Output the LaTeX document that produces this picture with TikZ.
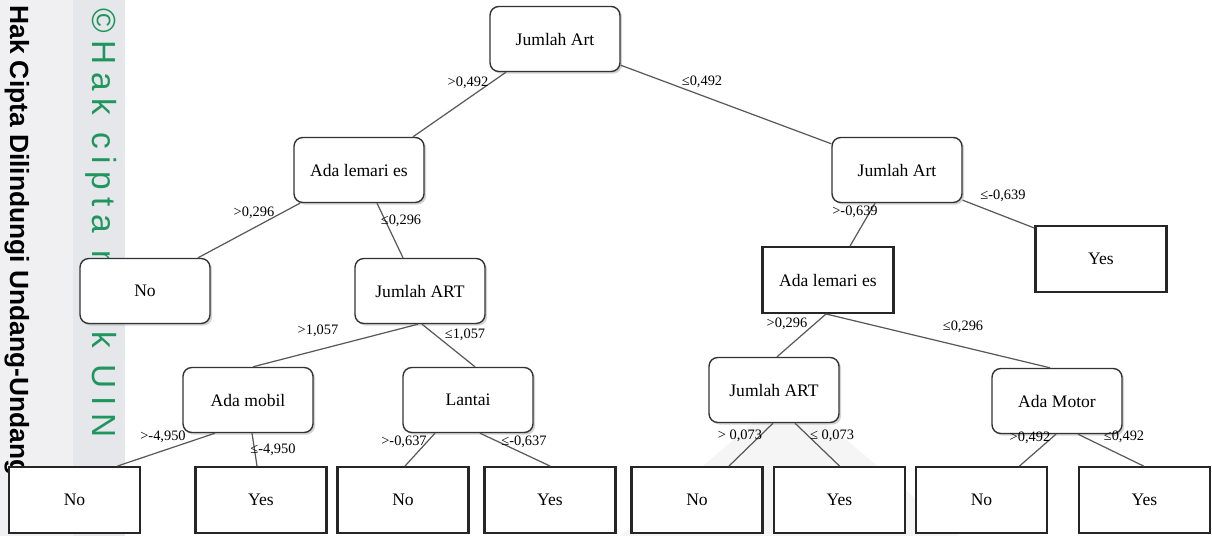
\documentclass[tikz,border=0pt]{standalone}
\usepackage{fontspec}
\setmainfont{Liberation Serif}
\newfontfamily\treefont{Liberation Serif}
\newfontfamily\stampfont{Liberation Sans}
\usetikzlibrary{calc,shadows}
\definecolor{stampgreen}{RGB}{32,150,95}
\definecolor{stripgray}{RGB}{229,231,234}
\definecolor{pagegray}{RGB}{240,240,242}

\begin{document}
\begin{tikzpicture}[
    x=0.02cm, y=-0.02cm,
    split/.style={rectangle, draw=black!80, line width=0.8pt, rounded corners=5pt, fill=white, minimum width=2.6cm, minimum height=1.3cm, font=\treefont\fontsize{10}{12}\selectfont, drop shadow={shadow xshift=1.2pt, shadow yshift=-1.2pt, opacity=0.35}},
    leaf/.style={rectangle, draw=black!85, line width=1.4pt, fill=white, minimum width=2.62cm, minimum height=1.31cm, font=\treefont\fontsize{10}{12}\selectfont},
    branch/.style={draw=black!65, line width=0.7pt},
    cond/.style={font=\treefont\fontsize{8.2}{9}\selectfont, inner sep=0pt}
]
\useasboundingbox (0,0) rectangle (1212,536);
\clip (0,0) rectangle (1212,536);

% Watermark
\fill[pagegray] (0,0) rectangle (73,536);
\fill[stripgray] (73,0) rectangle (125,536);
\fill[gray!8] (790,392) -- (960,536) -- (620,536) -- cycle;
\node[rotate=-90, anchor=west, inner sep=0pt, font=\stampfont\bfseries\fontsize{15}{15}\selectfont] (stamp) at (17,5) {Hak Cipta Dilindungi Undang-Undang};
\node[rotate=-90, anchor=west, inner sep=0pt, text=stampgreen, font=\stampfont\addfontfeature{LetterSpace=23}\fontsize{19}{19}\selectfont] (owner) at (101,8) {©Hak cipta milik UIN};

% Root
\node[split] (root) at (555,39) {Jumlah Art};

% Level 1
\node[split] (lemL) at (359,170) {Ada lemari es};
\node[split] (jumR) at (897,170) {Jumlah Art};

% Level 2
\node[split] (noL) at (145,291) {No};
\node[split] (jumL) at (420,291) {Jumlah ART};
\node[leaf] (lemR) at (828,280) {Ada lemari es};
\node[leaf] (yesR) at (1101,259) {Yes};

% Level 3
\node[split] (mobil) at (248,400) {Ada mobil};
\node[split] (lantai) at (468,400) {Lantai};
\node[split] (jumR3) at (774,390) {Jumlah ART};
\node[split] (motor) at (1057,401) {Ada Motor};

% Leaves
\node[leaf] (lf1) at (74.5,500) {No};
\node[leaf] (lf2) at (261,500) {Yes};
\node[leaf] (lf3) at (403,500) {No};
\node[leaf] (lf4) at (550,500) {Yes};
\node[leaf] (lf5) at (697,500) {No};
\node[leaf] (lf6) at (839.5,500) {Yes};
\node[leaf] (lf7) at (981.5,500) {No};
\node[leaf] (lf8) at (1144.5,500) {Yes};

% Branches
\draw[branch] ($(root.south)+(-49,0)$) -- ($(lemL.north)+(54,0)$);
\draw[branch] ($(root.south east)+(0,-7)$) -- ($(jumR.north west)+(0,7)$);
\draw[branch] ($(lemL.south)+(-59,0)$) -- ($(noL.north)+(53,0)$);
\draw[branch] ($(lemL.south)+(18,0)$) -- ($(jumL.north)+(-17,0)$);
\draw[branch] ($(jumR.south)+(-22,0)$) -- ($(lemR.north)+(22,0)$);
\draw[branch] ($(jumR.south east)+(0,-3)$) -- ($(yesR.north west)+(0,3)$);
\draw[branch] ($(jumL.south)+(-2,0)$) -- ($(mobil.north)+(5,0)$);
\draw[branch] ($(jumL.south)+(2,0)$) -- ($(lantai.north)+(7,0)$);
\draw[branch] ($(mobil.south)+(-33,0)$) -- ($(lf1.north)+(43,0)$);
\draw[branch] ($(mobil.south)+(4,0)$) -- ($(lf2.north)+(-4,0)$);
\draw[branch] ($(lantai.south)+(-33,0)$) -- ($(lf3.north)+(2,0)$);
\draw[branch] ($(lantai.south)+(12,0)$) -- (lf4.north);
\draw[branch] ($(lemR.south)+(-2,0)$) -- ($(jumR3.north)+(3,0)$);
\draw[branch] ($(lemR.south)+(-2,0)$) -- ($(motor.north)+(-7,0)$);
\draw[branch] ($(jumR3.south)+(-1,0)$) -- ($(lf5.north)+(32,0)$);
\draw[branch] ($(jumR3.south)+(21,0)$) -- (lf6.north);
\draw[branch] ($(motor.south)+(-1,0)$) -- ($(lf7.north)+(38,0)$);
\draw[branch] ($(motor.south)+(21,0)$) -- ($(lf8.north)+(-1,0)$);

% Conditions
\node[cond] (c1) at (468,83) {>0,492};
\node[cond] (c2) at (702,82) {≤0,492};
\node[cond] (c3) at (254,213) {>0,296};
\node[cond] (c4) at (401,221) {≤0,296};
\node[cond] (c5) at (855,212) {>-0,639};
\node[cond] (c6) at (1003,196) {≤-0,639};
\node[cond] (c7) at (318,331) {>1,057};
\node[cond] (c8) at (465,335) {≤1,057};
\node[cond] (c9) at (163,437) {>-4,950};
\node[cond] (c10) at (273,450) {≤-4,950};
\node[cond] (c11) at (404,442) {>-0,637};
\node[cond] (c12) at (524,442) {≤-0,637};
\node[cond] (c13) at (787,324) {>0,296};
\node[cond] (c14) at (963,327) {≤0,296};
\node[cond] (c15) at (740,436) {> 0,073};
\node[cond] (c16) at (832,436) {≤ 0,073};
\node[cond] (c17) at (1030,438) {>0,492};
\node[cond] (c18) at (1124,437) {≤0,492};

\end{tikzpicture}
\end{document}
